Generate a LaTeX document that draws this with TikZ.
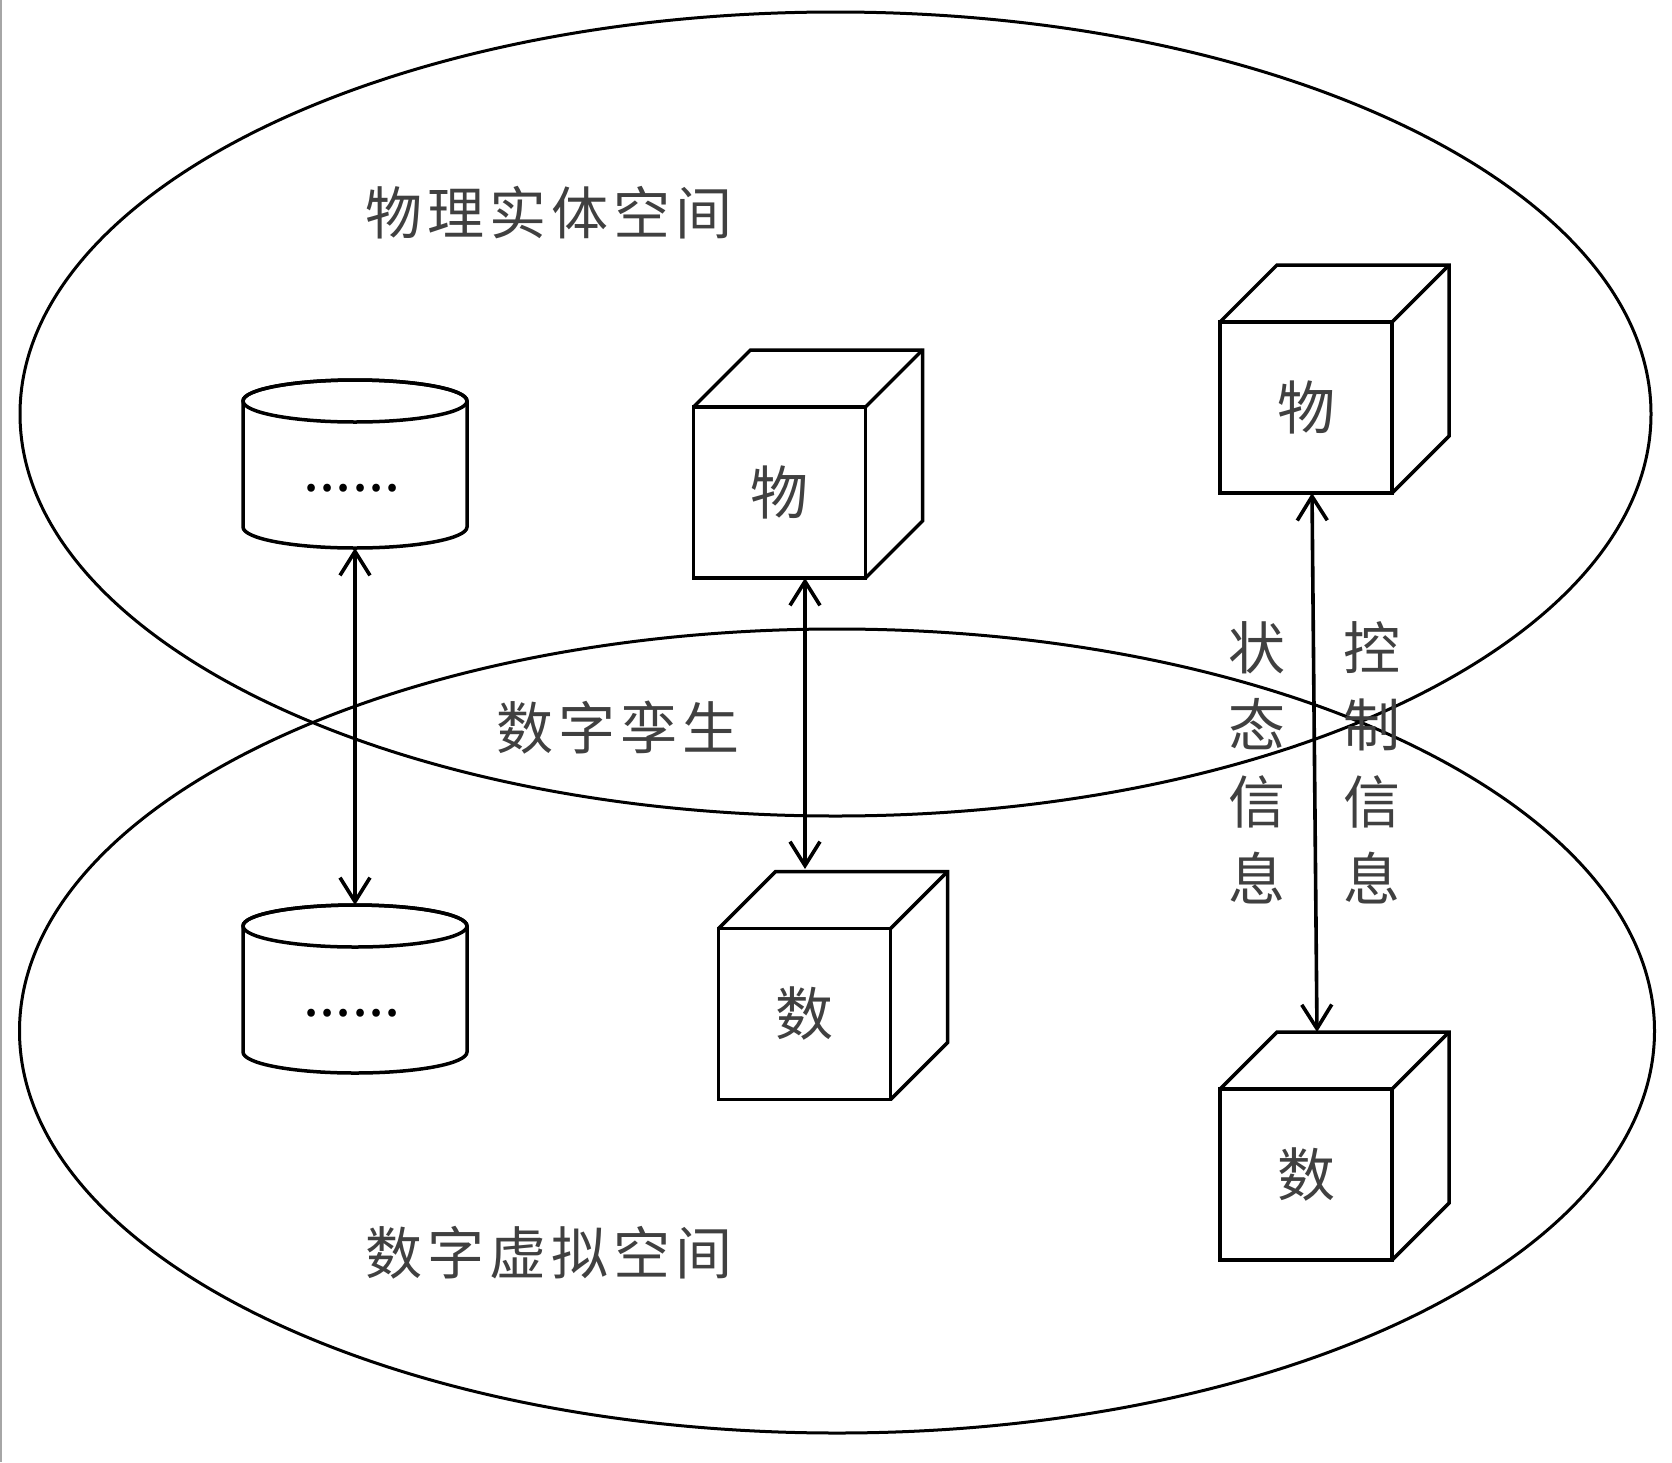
\documentclass[tikz,border=0pt]{standalone}
\usepackage{fontspec}
\usetikzlibrary{arrows.meta,shapes.geometric,calc}
\newfontfamily\cjk{Noto Sans CJK SC}
\newfontfamily\cjksp[LetterSpace=9]{Noto Sans CJK SC}
\tikzset{
  space/.style={draw, ellipse, line width=3pt, inner sep=0pt, outer sep=0pt},
  face/.style={draw, fill=white, line width=3.5pt, minimum width=172pt, minimum height=171pt,
    inner sep=0pt, outer sep=0pt, font=\cjk\fontsize{58}{70}\selectfont, text=black!75},
  edgethree/.style={draw, line width=3.5pt, line join=miter},
  cyl/.style={draw, fill=white, line width=3.5pt},
  dotstext/.style={font=\cjk\fontsize{58}{58}\selectfont, inner sep=0pt},
  arr/.style={line width=3.6pt, {Straight Barb[length=24pt,width=30pt]}-{Straight Barb[length=24pt,width=30pt]}},
  title/.style={font=\cjksp\fontsize{57}{70}\selectfont, text=black!75, inner sep=0pt},
  vlab/.style={font=\cjk\fontsize{57}{77}\selectfont, text=black!75, align=center, inner sep=0pt},
}
\newcommand\drawcube[4]{%
  \node[face] (#1) at (#2,#3) {#4};
  \draw[edgethree] (#1.north west) -- ++(57,-57) -- ++(172,0) -- ++(0,171) -- (#1.south east);
  \draw[edgethree] ($(#1.north east)+(57,-57)$) -- (#1.north east);
}
\newcommand\drawcyl[3]{%
  \node[inner sep=0pt, outer sep=0pt, minimum width=224pt, minimum height=168pt] (#1) at (#2,#3+84) {};
  \path[cyl] (#2-112,#3+21) -- (#2-112,#3+147) arc[start angle=180, end angle=0, x radius=112, y radius=21]
     -- (#2+112,#3+21) arc[start angle=0, end angle=-180, x radius=112, y radius=21] -- cycle;
  \draw[line width=3.5pt] (#2,#3+21) ellipse[x radius=112, y radius=21];
  \node[dotstext] (#1t) at (#2-3,#3+108) {......};
}
\begin{document}
\begin{tikzpicture}[x=1pt,y=-1pt]
\useasboundingbox (0,0) rectangle (1672,1462);
\draw[gray!70, line width=2pt] (1,0) -- (1,1462);
% spaces
\node[space, minimum width=1631pt, minimum height=804pt] (e1) at (835.5,414) {};
\node[space, minimum width=1635pt, minimum height=804pt] (e2) at (837,1031) {};
% titles
\node[title] (t1) at (549,213) {物理实体空间};
\node[title] (t2) at (618,728) {数字孪生};
\node[title] (t3) at (549,1253) {数字虚拟空间};
% cylinders
\drawcyl{c1}{355}{380}
\drawcyl{c2}{355}{905}
% cubes
\drawcube{q1}{779.5}{492.5}{物}
\drawcube{q2}{804.5}{1014}{数}
\drawcube{q3}{1306}{407.5}{物}
\drawcube{q4}{1306}{1174.5}{数}
% vertical labels
\node[vlab] (s1) at (1257,763) {状\\态\\信\\息};
\node[vlab] (s2) at (1372,763) {控\\制\\信\\息};
% connectors
\coordinate (m2) at (805,869);
\coordinate (r2) at (1317,1032);
\draw[arr] (c1.south) -- (c2.north);
\draw[arr] (q1.south -| m2) -- (m2);
\draw[arr] ([xshift=6pt]q3.south) -- (r2);
\end{tikzpicture}
\end{document}
